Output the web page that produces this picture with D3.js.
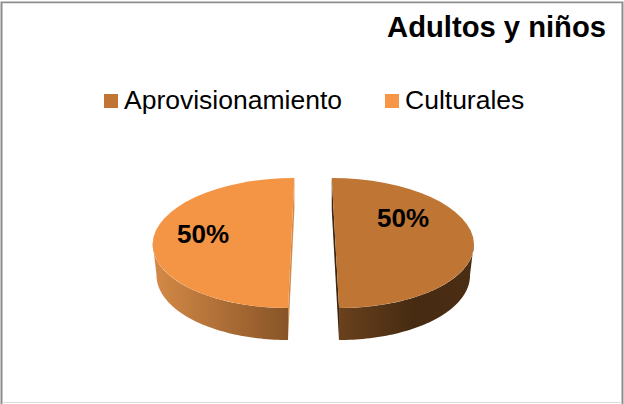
<!DOCTYPE html>
<html>
<head>
<meta charset="utf-8">
<script src="https://cdnjs.cloudflare.com/ajax/libs/d3/7.8.5/d3.min.js"></script>
<style>
  html, body { margin: 0; padding: 0; background: #fff; }
  svg { display: block; }
  text { font-family: "Liberation Sans", Arial, sans-serif; fill: #000; }
</style>
</head>
<body>
<svg width="624" height="404"></svg>
<script>
var categories = ["Aprovisionamiento", "Culturales"];
var values = [50, 50];
var labels = ["50%", "50%"];
var title = "Adultos y niños";

var topColors = ["#bf7534", "#f49546"];
var legendColors = ["#c07535", "#f79646"];
var wallStops = [
  [[0, "#6a411c"], [0.55, "#462b12"], [1, "#4b2d13"]],
  [[0, "#d58a47"], [1, "#885427"]]
];
var cutColors = ["#3d2510", "#d08a4a"];

var svg = d3.select("svg");

// frame
svg.append("path")
  .attr("d", "M1.5,404V2.5H622.5V404")
  .attr("fill", "none").attr("stroke", "#8c8c8c").attr("stroke-width", 2);
svg.append("path")
  .attr("d", "M2.5,3.5H621.5")
  .attr("fill", "none").attr("stroke", "#e4e4e4").attr("stroke-width", 1);
svg.append("path")
  .attr("d", "M2.5,402.5H621.5")
  .attr("fill", "none").attr("stroke", "#dcdcdc").attr("stroke-width", 1);

svg.append("text")
  .attr("x", 606).attr("y", 37)
  .attr("text-anchor", "end")
  .attr("font-size", 29.2).attr("font-weight", "bold")
  .text(title);

// legend
var legendX = [104, 385];
var legend = svg.selectAll("g.legend")
  .data(categories)
  .enter().append("g")
    .attr("class", "legend")
    .attr("transform", function(d, i) { return "translate(" + legendX[i] + ",94)"; });
legend.append("rect")
  .attr("width", 14).attr("height", 14)
  .attr("fill", function(d, i) { return legendColors[i]; });
legend.append("text")
  .attr("x", 20).attr("y", 15)
  .attr("font-size", 26.5)
  .text(function(d) { return d; });

// pie, flattened and sheared per slice so the cut edges lean like the 3d view
var rx = 138.5, ry = 65, cy = 243;
var centers = [335.4, 291.2];
var lean = [3.65, -3.15];
// lower rim is a narrower ellipse, that is what gives the wall its perspective
var lowerRx = 132, lowerCy = 275;
var lowerCenters = [338, 288.5];
var lowerLean = [1, -0.5];

var slices = d3.pie().sort(null)(values);
var arc = d3.arc().innerRadius(0).outerRadius(rx);

function project(i, angle) {
  var p = d3.pointRadial(angle, 1);
  return [centers[i] + p[0] * rx + lean[i] * p[1], cy + p[1] * ry];
}

function projectLower(i, angle) {
  var p = d3.pointRadial(angle, 1);
  return [lowerCenters[i] + p[0] * lowerRx + lowerLean[i] * p[1], lowerCy + p[1] * ry];
}

var defs = svg.append("defs");
wallStops.forEach(function(stops, i) {
  var a = Math.max(slices[i].startAngle, Math.PI / 2);
  var b = Math.min(slices[i].endAngle, Math.PI * 1.5);
  var x0 = project(i, a)[0], x1 = project(i, b)[0];
  var g = defs.append("linearGradient")
    .attr("id", "wall" + i)
    .attr("gradientUnits", "userSpaceOnUse")
    .attr("x1", Math.min(x0, x1)).attr("x2", Math.max(x0, x1))
    .attr("y1", 0).attr("y2", 0);
  stops.forEach(function(s) {
    g.append("stop").attr("offset", s[0]).attr("stop-color", s[1]);
  });
});

var line = d3.line();

slices.forEach(function(s, i) {
  var g = svg.append("g").attr("class", "slice");

  // cut face, seen as a thin sliver
  var top = project(i, 0), bottom = project(i, Math.PI);
  var bottomLow = projectLower(i, Math.PI), topLow = [top[0], top[1] + (bottomLow[1] - bottom[1])];
  g.append("path")
    .attr("d", line([top, bottom, bottomLow, topLow]) + "Z")
    .attr("fill", cutColors[i]);

  // outer wall, front half of the rim only
  var a = Math.max(s.startAngle, Math.PI / 2);
  var b = Math.min(s.endAngle, Math.PI * 1.5);
  var steps = d3.range(0, 61).map(function(k) { return a + (b - a) * k / 60; });
  var rim = steps.map(function(t) { return project(i, t); });
  var lower = steps.map(function(t) { return projectLower(i, t); }).reverse();
  g.append("path")
    .attr("d", line(rim.concat(lower)) + "Z")
    .attr("fill", "url(#wall" + i + ")");

  // top face
  g.append("path")
    .attr("d", arc(s))
    .attr("transform", "matrix(1,0," + (lean[i] / rx) + "," + (ry / rx) + "," + centers[i] + "," + cy + ")")
    .attr("fill", topColors[i]);
});

// data labels
var labelPos = [[403, 227], [203, 243]];
svg.selectAll("text.value")
  .data(labels)
  .enter().append("text")
    .attr("class", "value")
    .attr("x", function(d, i) { return labelPos[i][0]; })
    .attr("y", function(d, i) { return labelPos[i][1]; })
    .attr("text-anchor", "middle")
    .attr("font-size", 26).attr("font-weight", "bold")
    .text(function(d) { return d; });
</script>
</body>
</html>
